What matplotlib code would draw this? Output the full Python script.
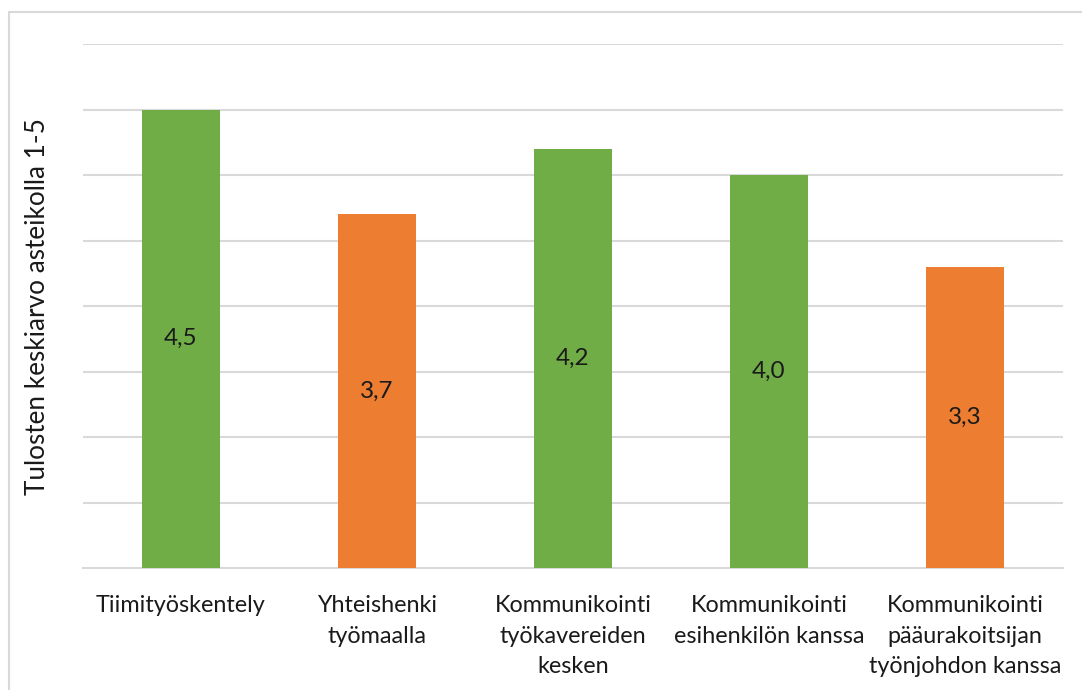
import matplotlib.pyplot as plt
from matplotlib.patches import Rectangle

# chart data
categories = [
    "Tiimityöskentely",
    "Yhteishenki\ntyömaalla",
    "Kommunikointi\ntyökavereiden\nkesken",
    "Kommunikointi\nesihenkilön kanssa",
    "Kommunikointi\npääurakoitsijan\ntyönjohdon kanssa",
]
values = [4.5, 3.7, 4.2, 4.0, 3.3]
value_labels = ["4,5", "3,7", "4,2", "4,0", "3,3"]
bar_colors = ["#70ad47", "#ed7d31", "#70ad47", "#70ad47", "#ed7d31"]
y_label = "Tulosten keskiarvo asteikolla 1-5"

plt.rcParams['font.family'] = ['Lato', 'DejaVu Sans']

fig = plt.figure(figsize=(10.82, 6.9), dpi=100)
ax = fig.add_axes([83 / 1082, 1 - 568 / 690, 980 / 1082, 524 / 690])

# outer chart border (only left/top visible in the reference)
fig.patches.append(Rectangle((9 / 1082, -0.1), 1.2, 1 - 12 / 690 + 0.1,
                             transform=fig.transFigure, fill=False,
                             edgecolor='#d9d9d9', linewidth=1.5))

x = range(len(categories))
bottom = 1.0
bars = ax.bar(x, [v - bottom for v in values], bottom=bottom, width=0.40,
              color=bar_colors, zorder=3)

for b, lab in zip(bars, value_labels):
    ax.text(b.get_x() + b.get_width() / 2, bottom + b.get_height() / 2, lab,
            ha='center', va='center', fontsize=17.5, color='#1a1a1a', zorder=4)

ax.set_xlim(-0.5, len(categories) - 0.5)
ax.set_ylim(1, 5)
ax.set_yticks([1.5, 2, 2.5, 3, 3.5, 4, 4.5, 5])
ax.yaxis.grid(True, color='#d9d9d9', linewidth=1.5)
ax.set_axisbelow(True)
ax.tick_params(axis='y', left=False, labelleft=False)
ax.tick_params(axis='x', bottom=False, pad=16, labelsize=16.8, labelcolor='#1a1a1a')
ax.set_xticks(list(x))
ax.set_xticklabels(categories, linespacing=1.56, va='top')

for side in ['top', 'right', 'left']:
    ax.spines[side].set_visible(False)
ax.spines['bottom'].set_color('#d9d9d9')
ax.spines['bottom'].set_linewidth(1.5)

fig.text(38 / 1082, 1 - 307 / 690, y_label, rotation=90, ha='center', va='center',
         fontsize=18.8, color='#1a1a1a')

fig.savefig('out.png', dpi=100)
